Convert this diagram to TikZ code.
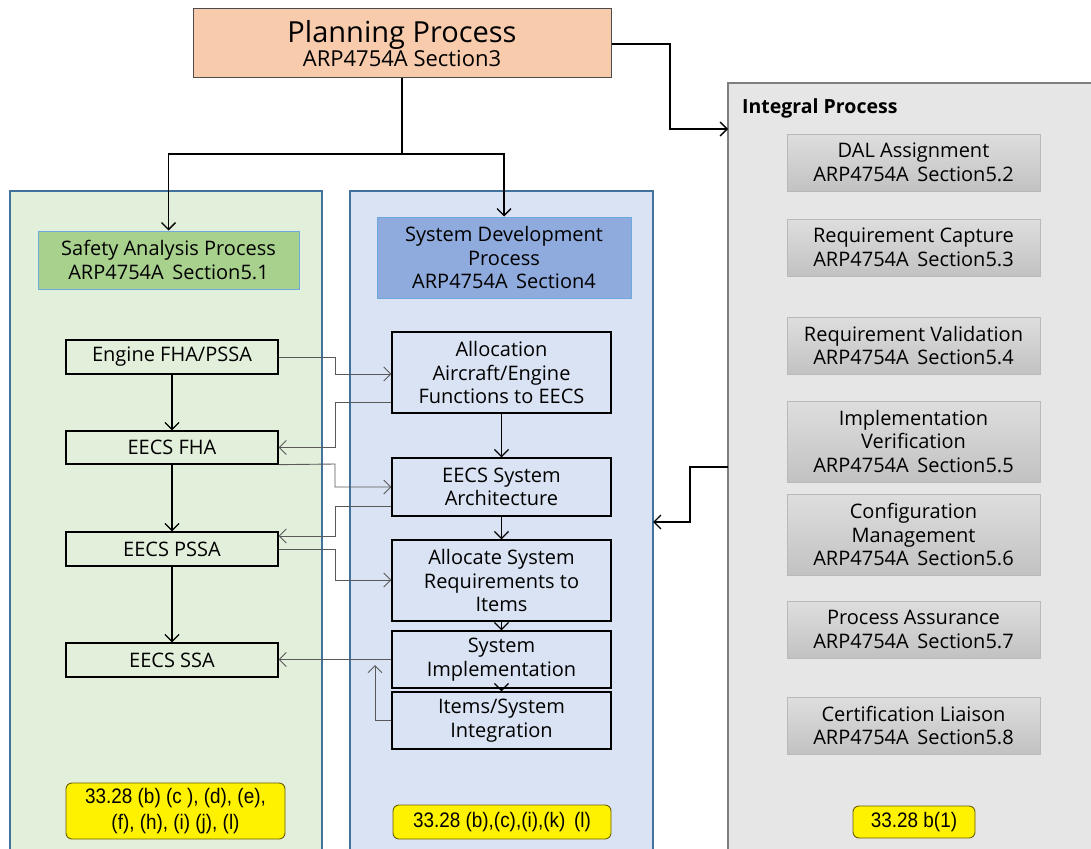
\documentclass[tikz,border=0pt]{standalone}
\usepackage{fontspec}
\setmainfont{Open Sans}
\newfontfamily\tagfont[FakeStretch=0.9]{Liberation Sans}
\usetikzlibrary{arrows.meta,positioning}

\definecolor{peach}{HTML}{F8CBAD}
\definecolor{greenpanel}{HTML}{E2EFDA}
\definecolor{bluepanel}{HTML}{DAE3F3}
\definecolor{graypanel}{HTML}{E6E6E6}
\definecolor{greenhead}{HTML}{A9D18E}
\definecolor{bluehead}{HTML}{8FAADC}
\definecolor{headline}{HTML}{6FA8DC}
\definecolor{panelline}{HTML}{41719C}
\definecolor{grayline}{HTML}{7F7F7F}
\definecolor{wireline}{HTML}{595959}
\definecolor{tagline}{HTML}{6B5E00}

\tikzset{
  x=1pt, y=-1pt,
  every node/.style={inner sep=1pt, align=center, font=\fontsize{20}{23.5}\selectfont},
  panel/.style={line width=1.1pt},
  stepbox/.style={draw=black, line width=1.3pt},
  headbox/.style={draw=headline, line width=1pt},
  intbox/.style={draw=gray!55, line width=0.8pt, top color=black!13, bottom color=black!24},
  tagbox/.style={draw=tagline, fill=yellow, rounded corners=6pt, line width=0.9pt,
    font=\tagfont\fontsize{21}{26}\selectfont},
  flow/.style={draw=black, line width=1.3pt, -{Straight Barb[length=7pt,width=14pt]}},
  wire/.style={draw=wireline, line width=0.9pt, -{Straight Barb[length=7pt,width=14pt]}},
}

\begin{document}
\begin{tikzpicture}
\useasboundingbox (0,0) rectangle (1091,848);
\clip (0,0) rectangle (1091,848);

% swim lanes
\filldraw[panel, fill=greenpanel, draw=panelline] (10,191) rectangle (322,856);
\filldraw[panel, fill=bluepanel, draw=panelline] (350,191) rectangle (653,856);
\filldraw[panel, fill=graypanel, draw=grayline] (728,83) rectangle (1098,856);

% planning
\node[draw=black!70, line width=1pt, fill=peach, minimum width=418, minimum height=69]
  (plan) at (402,43.5) {\fontsize{29}{31}\selectfont Planning Process\\\fontsize{22}{25}\selectfont ARP4754A Section3};

% lane headers
\node[headbox, fill=greenhead, minimum width=261, minimum height=58] (safety) at (168.5,260)
  {Safety Analysis Process\\ARP4754A\, Section5.1};
\node[headbox, fill=bluehead, minimum width=254, minimum height=81] (sysdev) at (504,257.5)
  {System Development\\Process\\ARP4754A\, Section4};
\node[anchor=west, font=\fontsize{19.5}{22}\selectfont\bfseries] (integral) at (741,108) {Integral Process};

% safety analysis steps
\node[stepbox, minimum width=212, minimum height=34] (efp)  at (172,357)   {Engine FHA/PSSA};
\node[stepbox, minimum width=212, minimum height=33] (fha)  at (172,447.5) {EECS FHA};
\node[stepbox, minimum width=212, minimum height=34] (pssa) at (172,549)   {EECS PSSA};
\node[stepbox, minimum width=212, minimum height=34] (ssa)  at (172,660)   {EECS SSA};

% system development steps
\node[stepbox, minimum width=219, minimum height=81] (alloc) at (501.5,372.5)
  {Allocation\\Aircraft/Engine\\Functions to EECS};
\node[stepbox, minimum width=219, minimum height=58] (arch) at (501.5,487)
  {EECS System\\Architecture};
\node[stepbox, minimum width=219, minimum height=81] (asr) at (501.5,580.5)
  {Allocate System\\Requirements to\\Items};
\node[stepbox, minimum width=219, minimum height=57] (impl) at (501.5,659.5)
  {System\\Implementation};
\node[stepbox, minimum width=219, minimum height=57] (integ) at (501.5,720.5)
  {Items/System\\Integration};

% integral processes
\node[intbox, minimum width=253, minimum height=57] (dal) at (913.5,162.5) {DAL Assignment\\ARP4754A\, Section5.2};
\node[intbox, minimum width=253, minimum height=57] (rc)  at (913.5,247.5) {Requirement Capture\\ARP4754A\, Section5.3};
\node[intbox, minimum width=253, minimum height=57] (rv)  at (913.5,345.5) {Requirement Validation\\ARP4754A\, Section5.4};
\node[intbox, minimum width=253, minimum height=81] (iv)  at (913.5,441.5) {Implementation\\Verification\\ARP4754A\, Section5.5};
\node[intbox, minimum width=253, minimum height=81] (cm)  at (913.5,534.5) {Configuration\\Management\\ARP4754A\, Section5.6};
\node[intbox, minimum width=253, minimum height=57] (pa)  at (913.5,629.5) {Process Assurance\\ARP4754A\, Section5.7};
\node[intbox, minimum width=253, minimum height=57] (cl)  at (913.5,725.5) {Certification Liaison\\ARP4754A\, Section5.8};

% regulation tags
\node[tagbox, minimum width=219, minimum height=56] (tagL) at (175.5,811) {33.28 (b) (c ), (d), (e),\\(f), (h), (i) (j), (l)};
\node[tagbox, minimum width=218, minimum height=34] (tagM) at (502,822) {33.28 (b),(c),(i),(k)\, (l)};
\node[tagbox, minimum width=122, minimum height=32] (tagR) at (914,822) {33.28 b(1)};

% planning outputs
\coordinate (split) at (402,154);
\draw[flow] (plan.south) -- (split) -| (safety.north);
\draw[flow] (split) -| (sysdev.north);
\draw[flow] (plan.east |- 0,44) -- (670,44) |- (728,129);
\draw[flow] (728,467) -- (690,467) |- (653,522);

% safety chain
\draw[flow] (efp.south) -- (fha.north);
\draw[flow] (fha.south) -- (pssa.north);
\draw[flow] (pssa.south) -- (ssa.north);

% development chain
\draw[flow] (alloc.south) -- (arch.north);
\draw[flow] (arch.south) -- (asr.north);
\draw[flow] (asr.south) -- (impl.north);
\draw[flow] (impl.south) -- (integ.north);

% exchanges between lanes
\draw[wire] (efp.east) -- (335,357) |- (alloc.west |- 0,374);
\draw[wire] (alloc.west |- 0,402) -- (335,402) |- (fha.east);
\draw[wire] (fha.south east) -- (335,464) |- (arch.west |- 0,487);
\draw[wire] (arch.west |- 0,506) -- (335,506) |- (pssa.east |- 0,536);
\draw[wire] (pssa.east) -- (335,549) |- (asr.west |- 0,580);
\draw[wire] (impl.west) -- (ssa.east |- impl.west);
\draw[wire] (integ.west) -- (375,720.5) -- (375,665);
\end{tikzpicture}
\end{document}
